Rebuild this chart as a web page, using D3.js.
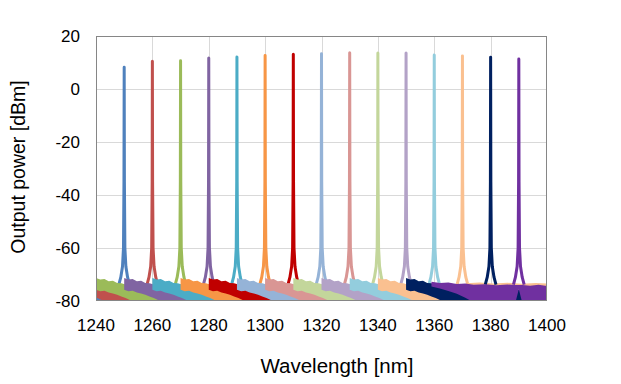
<!DOCTYPE html>
<html><head><meta charset="utf-8">
<script src="https://cdn.jsdelivr.net/npm/d3@7"></script>
<style>
body{margin:0;background:#fff}
text{font-family:"Liberation Sans",Arial,sans-serif;fill:#000}
</style>
</head><body>
<svg id="chart" width="621" height="384"></svg>
<script>
// ---- data ----
const xTicks = [1240,1260,1280,1300,1320,1340,1360,1380,1400];
const yTicks = [-80,-60,-40,-20,0,20];
const centers = [1250,1260,1270,1280,1290,1300,1310,1320,1330,1340,1350,1360,1370,1380,1390];
const peakDb  = [8.2,10.5,10.7,11.7,12.1,12.6,13.1,13.3,13.7,13.6,13.6,12.8,12.5,12.0,11.3];
const colors  = ["#4F81BD","#C0504D","#9BBB59","#8064A2","#4BACC6","#F79646","#C00000",
                 "#95B3D7","#D99694","#C3D69B","#B3A2C7","#93CDDD","#FAC090","#002060","#7030A0"];
// noise-floor band, relative to each channel centre
const bandOffsetNm = [-30,-28.5,-27,-25.5,-24,-22.5,-21,-19.5,-18,-16.5,-15,-13,-11,-9,-7,-5,-3,-1,2,10,20,40];
const bandTopDb    = [-71.3,-71.9,-71.7,-72.5,-72.4,-73.2,-73.3,-73.8,-74.4,-74.8,-75.6,-76.2,-76.9,-77.6,-78.2,-78.8,-79.3,-79.8,-81,-82,-82,-82];
const bandBottomDb = [-75.8,-76.3,-76.1,-76.8,-77.2,-77.6,-78.3,-78.9,-79.6,-80.4,-81,-81.8,-82.5,-83,-83.5,-84,-84.5,-85,-85,-86,-86,-86];
// long-wavelength floors that stay visible up to 1400 nm
const floorAfter1370 = [[1371.5,-73.3,-77],[1376,-73.0,-77],[1381,-73.4,-77],[1386,-73.1,-77],[1391,-73.5,-77],[1396,-73.2,-77],[1400,-73.4,-77]];
const floorAfter1380 = [[1381.5,-75.5,-82],[1390,-75.8,-82],[1400,-75.6,-82]];
const floor1390 = [[1359,-72.7,-74.5],[1362,-73.2,-75.3],[1365,-73.0,-76.2],[1368,-73.6,-77.3],[1371,-73.4,-78.8],
                   [1374,-73.9,-80.5],[1378,-73.7,-81],[1382,-74.1,-81],[1386,-73.8,-81],[1388.7,-74.0,-81],
                   [1390,-74.0,-75.6],[1391.3,-74.0,-81],[1394,-74.2,-81],[1397,-73.9,-81],[1400,-74.3,-81]];
// peak skirt (offset nm from centre, level dBm)
const skirtOffsetNm = [-1.9,-1.2,-0.6,-0.25,-0.08];
const skirtDb       = [-73.8,-71,-67,-60,-35];

// ---- layout ----
const svg = d3.select("#chart");
const m = {left:96, right:547, top:36, bottom:301};
const x = d3.scaleLinear().domain([1240,1400]).range([m.left,m.right]);
const y = d3.scaleLinear().domain([-80,20]).range([m.bottom,m.top]);

svg.append("defs").append("clipPath").attr("id","clip")
  .append("rect").attr("x",m.left).attr("y",m.top).attr("width",m.right-m.left).attr("height",m.bottom-m.top);

// gridlines
const grid = svg.append("g");
grid.selectAll(".gx").data(xTicks.slice(1,-1)).enter().append("line")
  .attr("x1",d=>Math.round(x(d))+0.5).attr("x2",d=>Math.round(x(d))+0.5).attr("y1",m.top).attr("y2",m.bottom)
  .attr("stroke","#D9D9D9").attr("stroke-width",1);
grid.selectAll(".gy").data(yTicks.slice(1,-1)).enter().append("line")
  .attr("y1",d=>Math.round(y(d))+0.5).attr("y2",d=>Math.round(y(d))+0.5).attr("x1",m.left).attr("x2",m.right)
  .attr("stroke","#D9D9D9").attr("stroke-width",1);

const plot = svg.append("g").attr("clip-path","url(#clip)");
const area = d3.area().x(d=>x(d[0])).y0(d=>y(d[2])).y1(d=>y(d[1])).curve(d3.curveLinear);
const line = d3.line().x(d=>x(d[0])).y(d=>y(d[1]));

centers.forEach((c,i)=>{
  let band;
  if (c===1390) band = floor1390;
  else {
    band = bandOffsetNm.map((o,k)=>[c+o, bandTopDb[k], bandBottomDb[k]]);
    if (c===1370) band = band.filter(d=>d[0]<c).concat(floorAfter1370);
    if (c===1380) band = band.filter(d=>d[0]<c).concat(floorAfter1380);
  }
  plot.append("path").datum(band).attr("d",area).attr("fill",colors[i]);
  const pk = skirtOffsetNm.map((o,k)=>[c+o, skirtDb[k]])
    .concat([[c, peakDb[i]]])
    .concat(skirtOffsetNm.slice().reverse().map((o,k)=>[c-o, skirtDb[skirtDb.length-1-k]]));
  plot.append("path").datum(pk).attr("d",line).attr("fill","none")
    .attr("stroke",colors[i]).attr("stroke-width",3).attr("stroke-linejoin","round");
});

// plot border
svg.append("rect").attr("x",m.left+0.5).attr("y",m.top+0.5)
  .attr("width",m.right-m.left-1).attr("height",m.bottom-m.top-1)
  .attr("fill","none").attr("stroke","#868686").attr("stroke-width",1);

// axes labels
svg.append("g").selectAll("text").data(yTicks).enter().append("text")
  .attr("x",80).attr("y",d=>y(d)).attr("dy","0.35em").attr("text-anchor","end")
  .attr("font-size",17).text(d=>d);
svg.append("g").selectAll("text").data(xTicks).enter().append("text")
  .attr("x",d=>x(d)).attr("y",325).attr("dy","0.35em").attr("text-anchor","middle")
  .attr("font-size",17).text(d=>d);
svg.append("text").attr("x",337).attr("y",366).attr("dy","0.35em").attr("text-anchor","middle")
  .attr("font-size",20.5).text("Wavelength [nm]");
svg.append("text").attr("transform","translate(18,167) rotate(-90)").attr("dy","0.35em")
  .attr("text-anchor","middle").attr("font-size",19.5).text("Output power [dBm]");
</script>
</body></html>
